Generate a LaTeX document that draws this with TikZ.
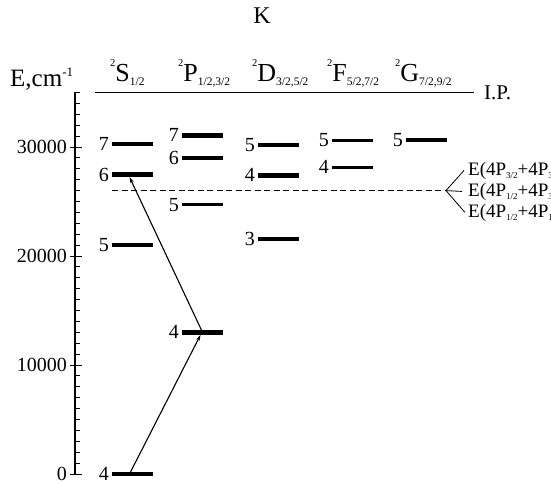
\documentclass[tikz,border=0pt]{standalone}
\usepackage{fontspec}
\setmainfont{Liberation Serif}
\usetikzlibrary{arrows.meta}

% font size helper and small raised / lowered index text
\newcommand\fs[1]{\fontsize{#1}{#1}\selectfont}
\newcommand\termsup[1]{\raisebox{15pt}{\fs{10.5}#1}}
\newcommand\termsub[1]{\raisebox{-3.5pt}{\fs{11.5}#1}}
\newcommand\esub[1]{\raisebox{-3pt}{\fs{9}#1}}

% one energy level: name, left x, energy (10^3 cm^-1), number, bar style
\newcommand\lvl[5]{%
  \draw[#5] (#2,#3) -- coordinate (#1) ++(41,0);
  \node[lvlnum] (#1n) at (#2,#3) {#4};}

\begin{document}
\begin{tikzpicture}[x=1pt,y=-1pt,
    lvlnum/.style={anchor=east, inner ysep=0pt, inner xsep=3pt, font=\fs{20}},
    axnum/.style={anchor=east, inner sep=0pt, font=\fs{20}},
    termlbl/.style={anchor=base west, inner sep=0pt, font=\fs{26}},
    elab/.style={anchor=base west, inner sep=0pt, font=\fs{19}},
    thickbar/.style={line width=4.6pt},
    thinbar/.style={line width=3.6pt},
    axisline/.style={line width=1.2pt},
    tickline/.style={line width=0.9pt},
    trans/.style={line width=1.1pt, -{Stealth[length=6pt,width=3.6pt]}},
    fork/.style={line width=0.8pt},
    limit/.style={dashed, dash pattern=on 6pt off 3.5pt, line width=0.9pt}]
\clip (0,0) rectangle (551,484);

% title and column headings
\node[font=\fs{24}, inner sep=0pt] (title) at (262,16) {K};
\node[anchor=base west, inner sep=0pt, font=\fs{25}] (eunit) at (10,87)
  {E,cm\raisebox{10pt}{\fs{13}-1}};
\node[termlbl] (hS) at (110,82) {\termsup{2}S\termsub{1/2}};
\node[termlbl] (hP) at (178,82) {\termsup{2}P\termsub{1/2,3/2}};
\node[termlbl] (hD) at (252,82) {\termsup{2}D\termsub{3/2,5/2}};
\node[termlbl] (hF) at (327,82) {\termsup{2}F\termsub{5/2,7/2}};
\node[termlbl] (hG) at (395,82) {\termsup{2}G\termsub{7/2,9/2}};

% energy scale: 10.9 pt per 1000 cm^-1, zero at y = 474
\begin{scope}[shift={(0,474)}, y=10.9pt]
  \draw[axisline] (75,0) -- (75,35);
  \foreach \e in {0,...,35} \draw[tickline] (75,\e) -- (80,\e);
  \foreach \e in {0,10,20,30} \draw[tickline] (70,\e) -- (82,\e);
  \node[axnum] (a0) at (67,0) {0};
  \node[axnum] (a10) at (67,10) {10000};
  \node[axnum] (a20) at (67,20) {20000};
  \node[axnum] (a30) at (67,30) {30000};

  % ionization potential
  \draw[axisline] (95,35.01) coordinate (ipL) -- (474,35.01) coordinate (ipR);
  \node[anchor=west, inner sep=0pt, font=\fs{21}] (ip) at (484,35.01) {I.P.};

  % levels
  \lvl{s4}{112}{0}{4}{thickbar}
  \lvl{s5}{112}{21.027}{5}{thinbar}
  \lvl{s6}{112}{27.451}{6}{thickbar}
  \lvl{s7}{112}{30.274}{7}{thickbar}
  \lvl{p4}{182}{13.0}{4}{thickbar}
  \lvl{p5}{182}{24.72}{5}{thinbar}
  \lvl{p6}{182}{28.999}{6}{thickbar}
  \lvl{p7}{182}{31.074}{7}{thickbar}
  \lvl{d3}{258}{21.535}{3}{thinbar}
  \lvl{d4}{258}{27.398}{4}{thickbar}
  \lvl{d5}{258}{30.186}{5}{thickbar}
  \lvl{f4}{332}{28.127}{4}{thinbar}
  \lvl{f5}{332}{30.606}{5}{thinbar}
  \lvl{g5}{406}{30.615}{5}{thinbar}

  % two-photon energy 2 x E(4P)
  \coordinate (dl) at (112,26.0);
  \coordinate (fk) at (446,26.0);
  \draw[limit] (dl) -- (fk);
\end{scope}

% excitation path 4S -> 4P -> 6S
\draw[trans] ([xshift=-3pt]s4) -- ([xshift=-2pt,yshift=-2.6pt]p4);
\draw[trans] (p4) -- ([xshift=-3pt,yshift=-2.3pt]s6);

% fine-structure components of the doubled 4P energy
\node[elab] (e1) at (468,175) {E(4P\esub{3/2}+4P\esub{3/2})};
\node[elab] (e2) at (468,196) {E(4P\esub{1/2}+4P\esub{3/2})};
\node[elab] (e3) at (468,217) {E(4P\esub{1/2}+4P\esub{1/2})};
\draw[fork] (fk) -- ([xshift=-4pt]e1.west);
\draw[fork] (fk) -- ([xshift=-6pt]e2.west);
\draw[fork] (fk) -- ([xshift=-3pt]e3.west);
\end{tikzpicture}
\end{document}
